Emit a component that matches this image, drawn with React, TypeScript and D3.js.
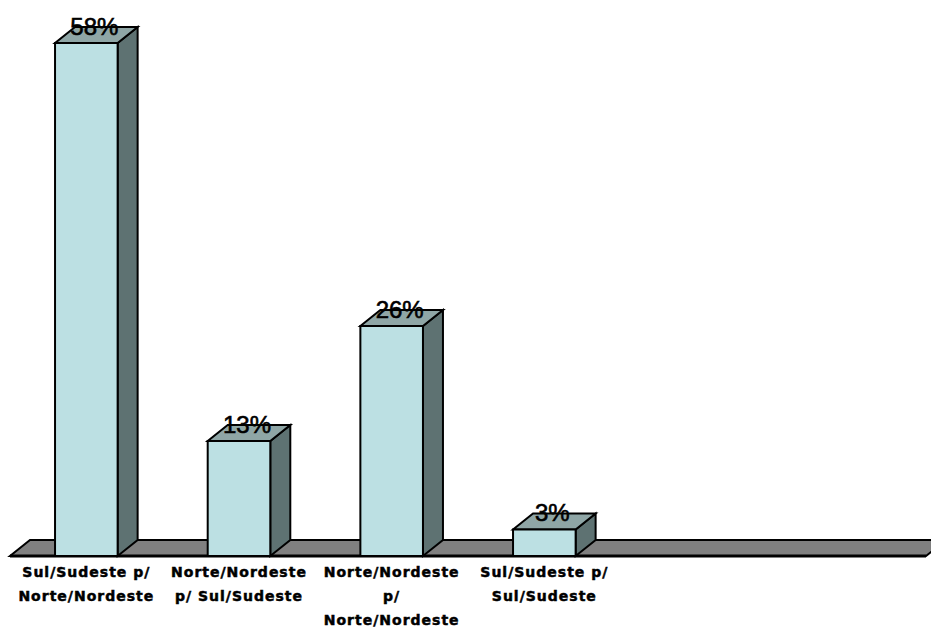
import React from "react";
import * as d3 from "d3";

// Regional migration flows (share of migrants, %)
const categories: string[][] = [
  ["Sul/Sudeste p/", "Norte/Nordeste"],
  ["Norte/Nordeste", "p/ Sul/Sudeste"],
  ["Norte/Nordeste", "p/", "Norte/Nordeste"],
  ["Sul/Sudeste p/", "Sul/Sudeste"],
];
const values: number[] = [58, 13, 26, 3];
const valueLabels: string[] = ["58%", "13%", "26%", "3%"];
// The category axis reserves six slots; only the first four hold data.
const slotCount = 6;

const W = 931;
const H = 628;
const DX = 20;
const DY = 16;
const FLOOR_Y = 556;

const FRONT = "#bce0e3";
const TOP = "#8fa6a6";
const SIDE = "#5e7272";
const FLOOR = "#808080";

export default function App() {
  const x = d3
    .scaleBand<number>()
    .domain(d3.range(slotCount))
    .range([10, 926])
    .paddingInner(0.59)
    .paddingOuter(0.295);
  const y = d3.scaleLinear().domain([0, 58]).range([FLOOR_Y, 43]);

  const bw = x.bandwidth();
  const floorPath = `M10,${FLOOR_Y} L926,${FLOOR_Y} L${926 + DX},${FLOOR_Y - DY} L${10 + DX},${FLOOR_Y - DY} Z`;

  return (
    <svg
      width={W}
      height={H}
      style={{ position: "absolute", left: 0, top: 0, background: "#fff" }}
    >
      <path d={floorPath} fill={FLOOR} stroke="#000" strokeWidth={2} strokeLinejoin="miter" />
      <line x1={10} x2={926} y1={FLOOR_Y} y2={FLOOR_Y} stroke="#000" strokeWidth={3} />
      {values.map((v, i) => {
        const x0 = x(i)!;
        const x1 = x0 + bw;
        const yt = y(v);
        const front = `M${x0},${FLOOR_Y} L${x0},${yt} L${x1},${yt} L${x1},${FLOOR_Y} Z`;
        const top = `M${x0},${yt} L${x0 + DX},${yt - DY} L${x1 + DX},${yt - DY} L${x1},${yt} Z`;
        const side = `M${x1},${FLOOR_Y} L${x1},${yt} L${x1 + DX},${yt - DY} L${x1 + DX},${FLOOR_Y - DY} Z`;
        return (
          <g key={i} stroke="#000" strokeWidth={2} strokeLinejoin="miter">
            <path d={side} fill={SIDE} />
            <path d={top} fill={TOP} />
            <path d={front} fill={FRONT} />
          </g>
        );
      })}
      {valueLabels.map((t, i) => (
        <text
          key={i}
          x={x(i)! + bw / 2 + 8}
          y={y(values[i]) - 8}
          textAnchor="middle"
          fontFamily="Liberation Sans, Arial, sans-serif"
          fontSize={24}
          stroke="#000"
          strokeWidth={0.6}
          fill="#000"
        >
          {t}
        </text>
      ))}
      {categories.map((lines, i) => (
        <text
          key={i}
          x={x(i)! + bw / 2}
          y={577}
          textAnchor="middle"
          fontFamily="DejaVu Sans, sans-serif"
          fontWeight="bold"
          fontSize={14}
          letterSpacing={1}
          stroke="#000"
          strokeWidth={0.5}
          fill="#000"
        >
          {lines.map((l, j) => (
            <tspan key={j} x={x(i)! + bw / 2} dy={j === 0 ? 0 : 24}>
              {l}
            </tspan>
          ))}
        </text>
      ))}
    </svg>
  );
}
